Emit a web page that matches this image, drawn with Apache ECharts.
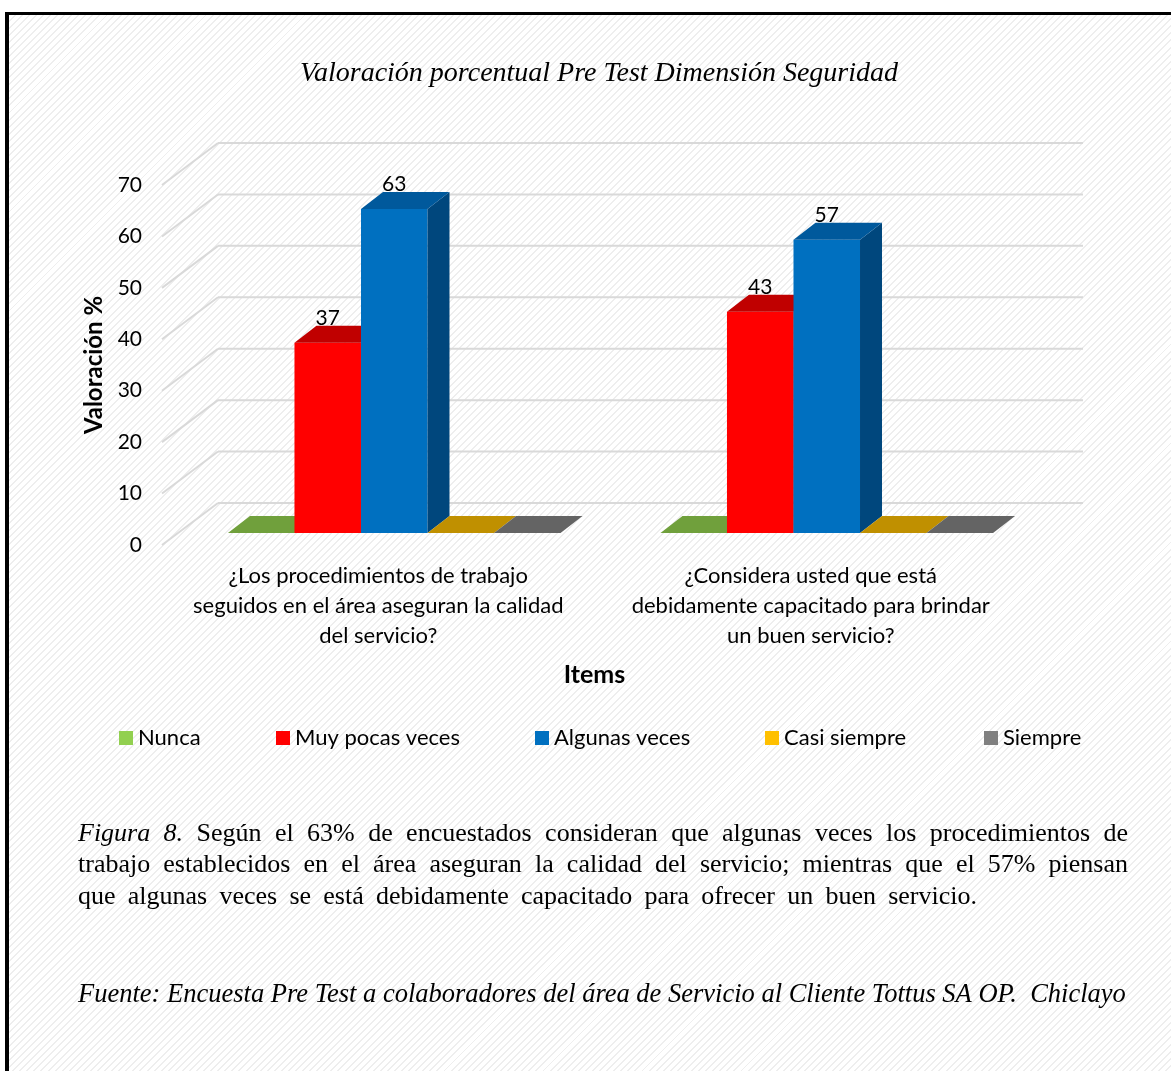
<!DOCTYPE html>
<html>
<head>
<meta charset="utf-8">
<script src="https://cdn.jsdelivr.net/npm/echarts@6/dist/echarts.min.js"></script>
<style>
  html, body { margin: 0; padding: 0; width: 1171px; height: 1071px; overflow: hidden; background: #fff; }
  #frame {
    position: absolute; left: 5px; top: 12px; width: 1200px; height: 1100px;
    border: 3px solid #000; border-left-width: 4px;
    background: repeating-linear-gradient(135deg, #ffffff 0px, #ffffff 3.6px, #eeeeee 3.6px, #eeeeee 5px);
  }
  #chart { position: absolute; left: 0; top: 0; width: 1171px; height: 1071px; }
</style>
</head>
<body>
<div id="frame"></div>
<div id="chart"></div>
<script>
// Survey items (category axis)
const CATEGORIES = [
  '¿Los procedimientos de trabajo\nseguidos en el área aseguran la calidad\ndel servicio?',
  '¿Considera usted que está\ndebidamente capacitado para brindar\nun buen servicio?'
];
// Percentages per answer option
const NUNCA = [0, 0];
const MUY_POCAS_VECES = [37, 43];
const ALGUNAS_VECES = [63, 57];
const CASI_SIEMPRE = [0, 0];
const SIEMPRE = [0, 0];
const SERIES_NAMES = ['Nunca', 'Muy pocas veces', 'Algunas veces', 'Casi siempre', 'Siempre'];
const SERIES_VALUES = [NUNCA, MUY_POCAS_VECES, ALGUNAS_VECES, CASI_SIEMPRE, SIEMPRE];
const Y_TICKS = [0, 10, 20, 30, 40, 50, 60, 70];

// Face colours of the pseudo-3D columns: legend/front, top, side
const FRONT = ['#92D050', '#FF0000', '#0070C0', '#FFC000', '#808080'];
const TOP   = ['#70A03C', '#C00000', '#00599C', '#C09000', '#646464'];
const SIDE  = ['#5A8530', '#A00000', '#00477D', '#A07800', '#555555'];

// Depth offsets (px) of the back wall, the front edge and the column depth
const WALL_DX = 40, WALL_DY = -30;
const EDGE_DX = -16, EDGE_DY = 12;
const BAR_DX = 22, BAR_DY = -17;
const BAR_FRAC = 0.1538;
const FONT = 'Lato';
// Left edge of each legend entry
const LEGEND_LEFT = [119, 276, 535, 765, 984];

const chart = echarts.init(document.getElementById('chart'), null, { renderer: 'canvas' });

function gridRender(params, api) {
  const cs = params.coordSys;
  const y = api.coord([0, api.value(0)])[1];
  const bx0 = cs.x + WALL_DX, bx1 = cs.x + cs.width + WALL_DX, by = y + WALL_DY;
  const lineStyle = { stroke: '#D9D9D9', lineWidth: 2 };
  return {
    type: 'group',
    children: [
      { type: 'line', shape: { x1: bx0, y1: by, x2: bx1, y2: by }, style: lineStyle },
      { type: 'line', shape: { x1: bx0, y1: by, x2: cs.x + EDGE_DX, y2: y + EDGE_DY }, style: lineStyle }
    ]
  };
}

function barRender(sIdx) {
  return function (params, api) {
    const i = api.value(0), v = api.value(1);
    const band = api.size([1, 0])[0];
    const w = band * BAR_FRAC;
    const c = api.coord([i, v]);
    const y0 = api.coord([i, 0])[1];
    const left = c[0] - 2.5 * w + sIdx * w;
    const top = c[1];
    const children = [];
    if (v > 0) {
      children.push({ type: 'rect', shape: { x: left, y: top, width: w, height: y0 - top },
        style: { fill: FRONT[sIdx] } });
      children.push({ type: 'polygon', shape: { points: [
        [left + w, top], [left + w + BAR_DX, top + BAR_DY], [left + w + BAR_DX, y0 + BAR_DY], [left + w, y0]] },
        style: { fill: SIDE[sIdx] } });
    }
    children.push({ type: 'polygon', shape: { points: [
      [left, top], [left + w, top], [left + w + BAR_DX, top + BAR_DY], [left + BAR_DX, top + BAR_DY]] },
      style: { fill: TOP[sIdx] } });
    if (v > 0) {
      children.push({ type: 'text', style: { text: String(v), x: left + w / 2, y: top + BAR_DY + 3,
        align: 'center', verticalAlign: 'bottom', fontSize: 21, fontFamily: FONT, fill: '#000' } });
    }
    return { type: 'group', children: children };
  };
}

const series = [{
  type: 'custom', name: 'grid', xAxisIndex: 0, yAxisIndex: 0, z: 1, silent: true,
  data: Y_TICKS.map(t => [t]), renderItem: gridRender
}];
SERIES_NAMES.forEach((name, s) => {
  series.push({
    type: 'custom', name: name, xAxisIndex: 0, yAxisIndex: 0, z: 2,
    itemStyle: { color: FRONT[s] },
    data: SERIES_VALUES[s].map((v, i) => [i, v]),
    renderItem: barRender(s)
  });
});

// Caption text laid out word by word (justified lines)
const measureCtx = document.createElement('canvas').getContext('2d');
const CAP_SIZE = 26;
function capFont(it) { return (it ? 'italic ' : '') + CAP_SIZE + 'px "Liberation Serif"'; }
function captionLine(words, y, x0, x1) {
  const widths = words.map(w => { measureCtx.font = capFont(w.it); return measureCtx.measureText(w.t).width; });
  const total = widths.reduce((a, b) => a + b, 0);
  const gap = (x1 - x0 - total) / (words.length - 1);
  const out = [];
  let x = x0;
  words.forEach((w, k) => {
    out.push({ type: 'text', x: x, y: y,
      style: { text: w.t, font: capFont(w.it), fill: '#000', verticalAlign: 'middle' } });
    x += widths[k] + gap;
  });
  return out;
}
function words(str, it) { return str.split(' ').map(t => ({ t: t, it: !!it })); }

const graphics = [].concat(
  captionLine(words('Figura 8.', true).concat(words('Según el 63% de encuestados consideran que algunas veces los procedimientos de')), 834, 78, 1128),
  captionLine(words('trabajo establecidos en el área aseguran la calidad del servicio; mientras que el 57% piensan'), 865.5, 78, 1128),
  captionLine(words('que algunas veces se está debidamente capacitado para ofrecer un buen servicio.'), 897, 78, 977),
  [{ type: 'text', x: 78, y: 995,
     style: { text: 'Fuente: Encuesta Pre Test a colaboradores del área de Servicio al Cliente Tottus SA OP.  Chiclayo',
              font: 'italic 26.5px "Liberation Serif"', fill: '#000', verticalAlign: 'middle' } }]
);

const legends = SERIES_NAMES.map((name, s) => ({
  data: [name], left: LEGEND_LEFT[s], top: 727, padding: 0, itemWidth: 14, itemHeight: 14, icon: 'rect',
  selectedMode: false, textStyle: { fontFamily: FONT, fontSize: 22, color: '#000' }
}));

chart.setOption({
  animation: false,
  backgroundColor: 'transparent',
  title: {
    text: 'Valoración porcentual Pre Test Dimensión Seguridad',
    left: 594, top: 55, textAlign: 'center',
    textStyle: { fontFamily: 'Liberation Serif', fontStyle: 'italic', fontWeight: 'normal', fontSize: 28, color: '#000' }
  },
  legend: legends,
  grid: [
    { left: 178, right: 128, top: 173, bottom: 538 },
    { left: 162, right: 144, top: 185, bottom: 526 }
  ],
  xAxis: [
    { type: 'category', gridIndex: 0, data: CATEGORIES, show: false },
    { type: 'category', gridIndex: 1, data: CATEGORIES,
      axisLine: { show: false }, axisTick: { show: false },
      axisLabel: { fontFamily: FONT, fontSize: 22, lineHeight: 30, color: '#000', margin: 16, interval: 0 },
      name: 'Items', nameLocation: 'middle', nameGap: 117,
      nameTextStyle: { fontFamily: FONT, fontSize: 25, fontWeight: 'bold', color: '#000' } }
  ],
  yAxis: [
    { type: 'value', gridIndex: 0, min: 0, max: 70, interval: 10, show: false },
    { type: 'value', gridIndex: 1, min: 0, max: 70, interval: 10,
      axisLine: { show: false }, axisTick: { show: false }, splitLine: { show: false },
      axisLabel: { fontFamily: FONT, fontSize: 21, color: '#000', margin: 20 },
      name: 'Valoración %', nameLocation: 'middle', nameGap: 56,
      nameTextStyle: { fontFamily: FONT, fontSize: 24, fontWeight: 'bold', color: '#000' } }
  ],
  series: series,
  graphic: graphics
});
</script>
</body>
</html>
